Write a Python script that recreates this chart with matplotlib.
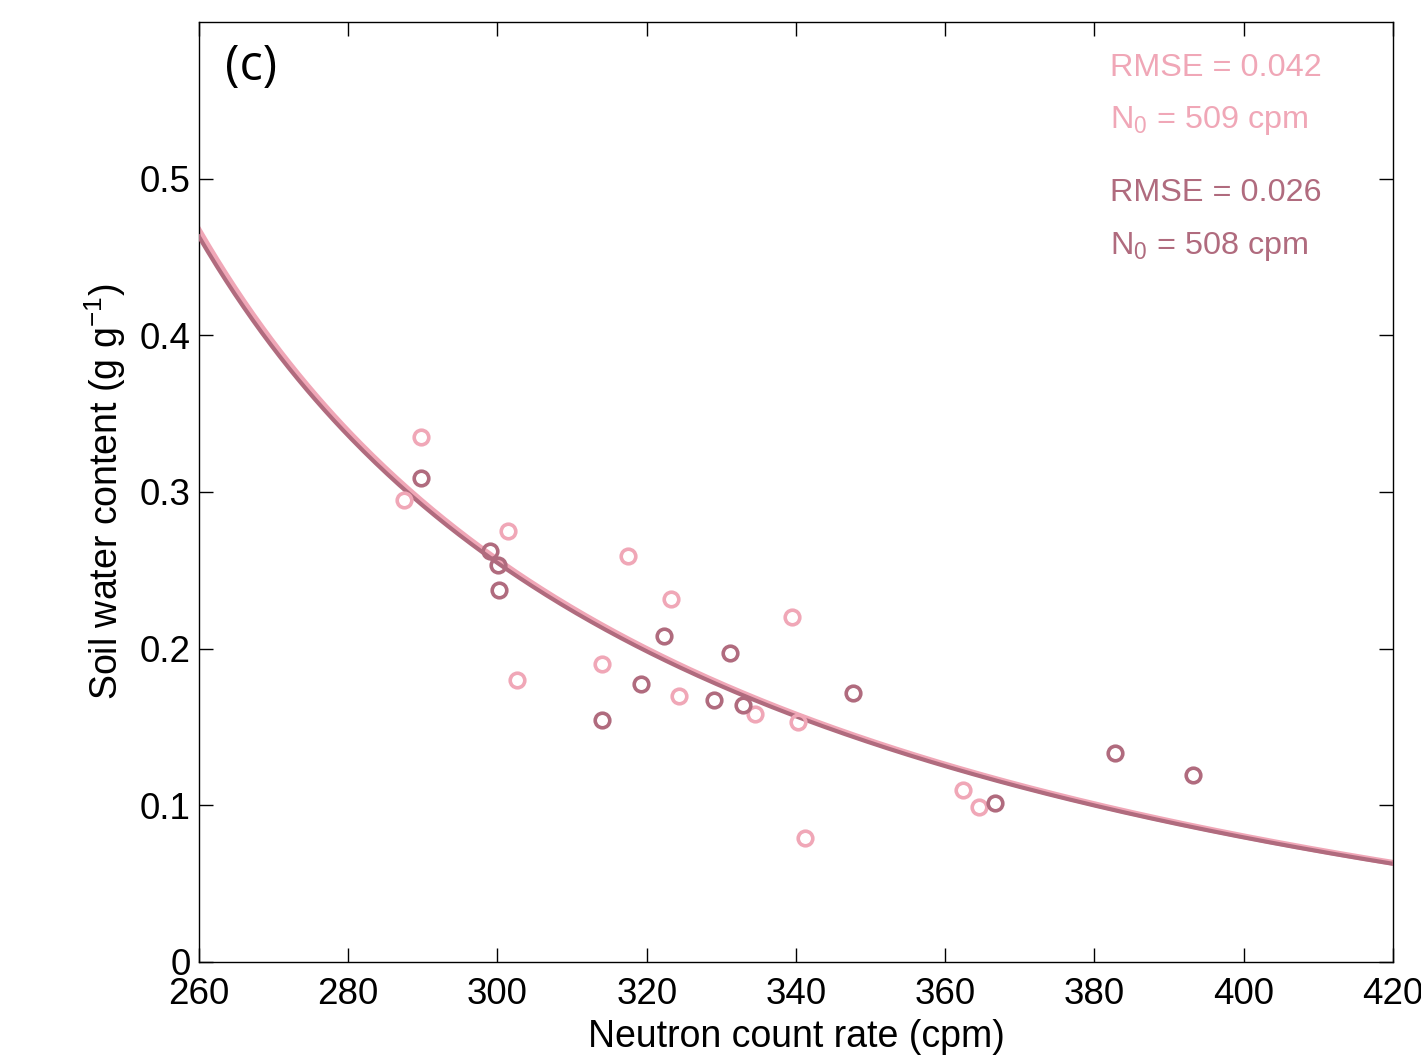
"""
Soil water content vs neutron count rate, panel (c).
"""

import numpy as np
import matplotlib
matplotlib.use("Agg")
import matplotlib.pyplot as plt

plt.rcParams["font.family"] = ["Liberation Sans", "DejaVu Sans"]
plt.rcParams["mathtext.fontset"] = "custom"
plt.rcParams["mathtext.rm"] = "Liberation Sans"
plt.rcParams["mathtext.it"] = "Liberation Sans"

LIGHT = "#F0A7B7"
DARK = "#B06B7E"

light_n = [287.5, 289.7, 301.4, 302.6, 314.0, 317.5, 323.2, 324.3, 334.5,
           339.5, 340.3, 341.2, 362.4, 364.5]
light_theta = [0.295, 0.335, 0.275, 0.180, 0.190, 0.259, 0.232, 0.170, 0.158,
               0.220, 0.153, 0.079, 0.110, 0.099]

dark_n = [289.7, 299.0, 300.1, 300.2, 314.0, 319.2, 322.3, 329.0, 331.2,
          332.9, 347.6, 366.7, 382.7, 393.2]
dark_theta = [0.309, 0.2625, 0.2535, 0.2375, 0.1545, 0.1775, 0.208, 0.167,
              0.197, 0.164, 0.172, 0.1015, 0.1335, 0.1195]

# Calibration results shown on the panel
light_rmse, light_n0 = 0.042, 509
dark_rmse, dark_n0 = 0.026, 508


def desilets(n, n0, a0=0.0808, a1=0.372, a2=0.115):
    """Desilets et al. (2010) calibration function."""
    return a0 / (n / n0 - a1) - a2


fig = plt.figure(figsize=(14.21, 10.59), dpi=100)
ax = fig.add_axes([0.14, 0.0916, 0.8403, 0.8877])

n_grid = np.linspace(260, 420, 400)
ax.plot(n_grid, desilets(n_grid, light_n0), color=LIGHT, lw=4.2, zorder=2)
ax.plot(n_grid, desilets(n_grid, dark_n0), color=DARK, lw=3.0, zorder=3)

ax.plot(light_n, light_theta, "o", mfc="none", mec=LIGHT, mew=2.6, ms=10.5, zorder=4)
ax.plot(dark_n, dark_theta, "o", mfc="none", mec=DARK, mew=2.6, ms=10.5, zorder=4)

ax.set_xlim(260, 420)
ax.set_ylim(0, 0.6)
ax.set_xticks(np.arange(260, 421, 20))
ax.set_yticks([0, 0.1, 0.2, 0.3, 0.4, 0.5])
ax.set_yticklabels(["0", "0.1", "0.2", "0.3", "0.4", "0.5"])
ax.tick_params(direction="in", length=10, width=1, top=True, right=True,
               labelsize=26.5)
ax.tick_params(axis="x", pad=11)
ax.tick_params(axis="y", pad=6)
for s in ax.spines.values():
    s.set_linewidth(1.0)

ax.set_xlabel("Neutron count rate (cpm)", fontsize=27, labelpad=5)
ax.set_ylabel("Soil water content (g g$^{-1}$)", fontsize=27, labelpad=8)

ax.text(0.022, 0.952, "(c)", transform=ax.transAxes, fontsize=35,
        family=["Open Sans", "DejaVu Sans"], va="center", ha="left")

ax.text(0.763, 0.967, f"RMSE = {light_rmse:.3f}", transform=ax.transAxes,
        fontsize=23.3, color=LIGHT, va="top")
ax.text(0.763, 0.913, f"N$_0$ = {light_n0} cpm", transform=ax.transAxes,
        fontsize=23.3, color=LIGHT, va="top")
ax.text(0.763, 0.834, f"RMSE = {dark_rmse:.3f}", transform=ax.transAxes,
        fontsize=23.3, color=DARK, va="top")
ax.text(0.763, 0.779, f"N$_0$ = {dark_n0} cpm", transform=ax.transAxes,
        fontsize=23.3, color=DARK, va="top")

fig.savefig("out.png", dpi=100)
plt.close(fig)
